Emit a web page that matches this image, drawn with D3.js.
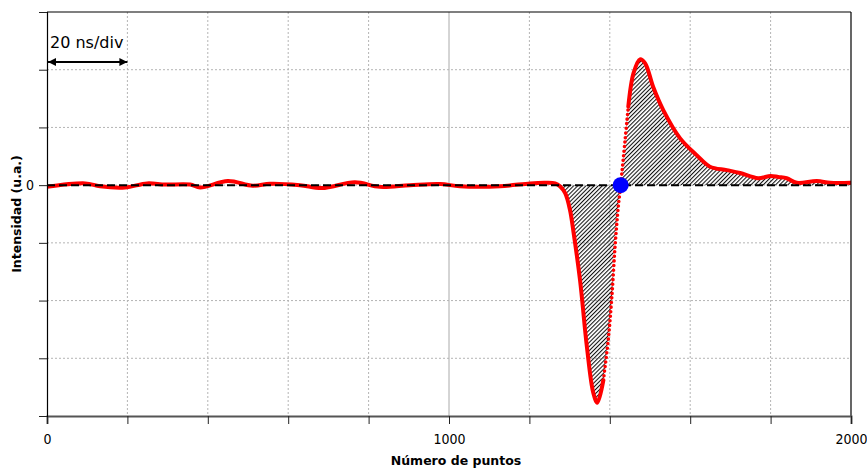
<!DOCTYPE html>
<html>
<head>
<meta charset="utf-8">
<script src="https://cdn.jsdelivr.net/npm/d3@7"></script>
<style>
  html, body { margin: 0; padding: 0; background: #fff; }
  svg { display: block; font-family: "DejaVu Sans", Verdana, sans-serif; }
</style>
</head>
<body>
<svg id="chart" width="867" height="468"></svg>
<script>
// Sample index (número de puntos) and measured intensity (u.a.)
const puntos = [0, 95, 132, 194, 249, 294, 356, 381, 450, 512, 555, 629, 684, 766, 828, 903, 978, 1027, 1127, 1202, 1239, 1264, 1276, 1289, 1301, 1309, 1326, 1343, 1359, 1369, 1384, 1396, 1405, 1413, 1421, 1427, 1438, 1446, 1459, 1475, 1488, 1508, 1533, 1575, 1616, 1649, 1691, 1724, 1769, 1800, 1819, 1840, 1865, 1915, 1948, 2000];
const intensidad = [-0.03, 0.03, -0.02, -0.04, 0.03, 0.01, 0.01, -0.04, 0.07, -0.01, 0.025, 0.0, -0.05, 0.05, -0.03, 0.0, 0.02, -0.02, -0.02, 0.03, 0.04, 0.03, -0.02, -0.14, -0.43, -0.78, -1.65, -2.8, -3.6, -3.77, -3.38, -2.69, -1.94, -1.07, -0.38, 0.0, 0.78, 1.36, 1.94, 2.18, 2.11, 1.70, 1.30, 0.81, 0.52, 0.32, 0.26, 0.21, 0.12, 0.16, 0.14, 0.12, 0.04, 0.07, 0.04, 0.04];

// Axis ticks and labels
const xTicks = [0, 200, 400, 600, 800, 1000, 1200, 1400, 1600, 1800, 2000];
const xTickLabels = ["0", "", "", "", "", "1000", "", "", "", "", "2000"];
const yTicks = [-4, -3, -2, -1, 0, 1, 2, 3];
const yTickLabels = ["", "", "", "", "0", "", "", ""];

// Zero crossing of the pulse and the region where the area is shaded
const cruceCero = 1427;
const inicioPulso = 1264;
// Steep rising edge drawn with sparse samples (dotted)
const flancoInicio = 1384, flancoFin = 1446;

const data = puntos.map((p, i) => ({ x: p, y: intensidad[i] }));

const svg = d3.select("#chart");
const margin = { left: 47, right: 16, top: 12, bottom: 52 };
const W = 867, H = 468;
const tickFont = "'DejaVu Sans Condensed', 'DejaVu Sans', sans-serif";

const x = d3.scaleLinear().domain([0, 2000]).range([margin.left, W - margin.right]);
const y = d3.scaleLinear().domain([-4, 3]).range([H - margin.bottom, margin.top]);

// Hatch pattern for the shaded area
const defs = svg.append("defs");
const pat = defs.append("pattern")
  .attr("id", "rayado")
  .attr("patternUnits", "userSpaceOnUse")
  .attr("width", 2.9).attr("height", 2.9)
  .attr("patternTransform", "rotate(45)");
pat.append("line")
  .attr("x1", 0.5).attr("y1", 0).attr("x2", 0.5).attr("y2", 2.9)
  .attr("stroke", "#111").attr("stroke-width", 1.1);

defs.append("clipPath").attr("id", "plotClip")
  .append("rect")
  .attr("x", x(0)).attr("y", y(3))
  .attr("width", x(2000) - x(0)).attr("height", y(-4) - y(3));

defs.append("marker")
  .attr("id", "punta").attr("viewBox", "0 0 10 10")
  .attr("refX", 10).attr("refY", 5)
  .attr("markerWidth", 11).attr("markerHeight", 8)
  .attr("markerUnits", "userSpaceOnUse")
  .attr("orient", "auto-start-reverse")
  .append("path").attr("d", "M0,0 L10,5 L0,10 Z").attr("fill", "#000");

// Grid
const grid = svg.append("g");
grid.selectAll("line.gx").data(xTicks.filter(t => t > 0 && t < 2000)).join("line")
  .attr("x1", d => x(d)).attr("x2", d => x(d))
  .attr("y1", y(3)).attr("y2", y(-4))
  .attr("stroke", d => d === 1000 ? "#aaa" : "#b4b4b4")
  .attr("stroke-width", 1)
  .attr("stroke-dasharray", d => d === 1000 ? null : "2 2");
grid.selectAll("line.gy").data(yTicks.filter(t => t > -4 && t < 3)).join("line")
  .attr("x1", x(0)).attr("x2", x(2000))
  .attr("y1", d => y(d)).attr("y2", d => y(d))
  .attr("stroke", "#b4b4b4").attr("stroke-width", 1)
  .attr("stroke-dasharray", "2 2");

const curva = d3.curveCatmullRom.alpha(0.5);

// Shaded area between pulse and zero
const pulso = data.filter(d => d.x >= inicioPulso);
svg.append("path")
  .datum(pulso)
  .attr("clip-path", "url(#plotClip)")
  .attr("d", d3.area().x(d => x(d.x)).y0(y(0)).y1(d => y(d.y)).curve(curva))
  .attr("fill", "url(#rayado)");

// Signal trace
const linea = d3.line().x(d => x(d.x)).y(d => y(d.y)).curve(curva);
const tramo1 = data.filter(d => d.x <= flancoInicio);
const tramo2 = data.filter(d => d.x >= flancoInicio && d.x <= flancoFin);
const tramo3 = data.filter(d => d.x >= flancoFin);
const traza = svg.append("g").attr("clip-path", "url(#plotClip)");
[tramo1, tramo3].forEach(t => {
  traza.append("path").datum(t).attr("d", linea)
    .attr("fill", "none").attr("stroke", "#ff0000")
    .attr("stroke-width", 4).attr("stroke-linejoin", "round").attr("stroke-linecap", "round");
});
traza.append("path").datum(tramo2).attr("d", linea)
  .attr("fill", "none").attr("stroke", "#ff0000")
  .attr("stroke-width", 3.6).attr("stroke-linecap", "round")
  .attr("stroke-dasharray", "0 4.6");

// Zero reference (dashed)
svg.append("line")
  .attr("x1", x(0)).attr("x2", x(2000))
  .attr("y1", y(0)).attr("y2", y(0))
  .attr("stroke", "#000").attr("stroke-width", 2)
  .attr("stroke-dasharray", "8 4");

// Zero crossing marker
svg.append("circle")
  .attr("cx", x(cruceCero)).attr("cy", y(0)).attr("r", 8)
  .attr("fill", "#0000ff");

// Frame
svg.append("line").attr("x1", x(0)).attr("x2", x(2000)).attr("y1", y(3)).attr("y2", y(3))
  .attr("stroke", "#000").attr("stroke-width", 1.2);
svg.append("line").attr("x1", x(2000)).attr("x2", x(2000)).attr("y1", y(3)).attr("y2", y(-4))
  .attr("stroke", "#000").attr("stroke-width", 1.2);

// Axes
const xAxis = d3.axisBottom(x).tickValues(xTicks)
  .tickFormat((d, i) => xTickLabels[i]).tickSize(8).tickPadding(10);
const gx = svg.append("g").attr("transform", `translate(0,${y(-4)})`).call(xAxis);
gx.select(".domain").attr("stroke", "#555").attr("stroke-width", 2);
gx.selectAll(".tick line").attr("stroke", "#222");
gx.selectAll("text").attr("font-size", 14).attr("fill", "#000")
  .attr("font-family", tickFont);

const yAxis = d3.axisLeft(y).tickValues(yTicks)
  .tickFormat((d, i) => yTickLabels[i]).tickSize(8).tickPadding(5);
const gy = svg.append("g").attr("transform", `translate(${x(0)},0)`).call(yAxis);
gy.select(".domain").attr("stroke", "#000").attr("stroke-width", 1.2);
gy.selectAll(".tick line").attr("stroke", "#222");
gy.selectAll("text").attr("font-size", 14).attr("fill", "#000")
  .attr("font-family", tickFont);

// Axis titles
svg.append("text")
  .attr("x", (x(0) + x(2000)) / 2 + 7).attr("y", 465)
  .attr("text-anchor", "middle").attr("font-size", 12.5).attr("font-weight", "bold")
  .text("Número de puntos");
svg.append("text")
  .attr("transform", `translate(21,${(y(3) + y(-4)) / 2}) rotate(-90)`)
  .attr("text-anchor", "middle").attr("font-size", 12.5).attr("font-weight", "bold")
  .text("Intensidad (u.a.)");

// Time-scale annotation
svg.append("text")
  .attr("x", x(0) + 3).attr("y", 48)
  .attr("font-size", 16)
  .text("20 ns/div");
svg.append("line")
  .attr("x1", x(0) + 1).attr("x2", x(200))
  .attr("y1", 62).attr("y2", 62)
  .attr("stroke", "#000").attr("stroke-width", 2)
  .attr("marker-start", "url(#punta)").attr("marker-end", "url(#punta)");
</script>
</body>
</html>
